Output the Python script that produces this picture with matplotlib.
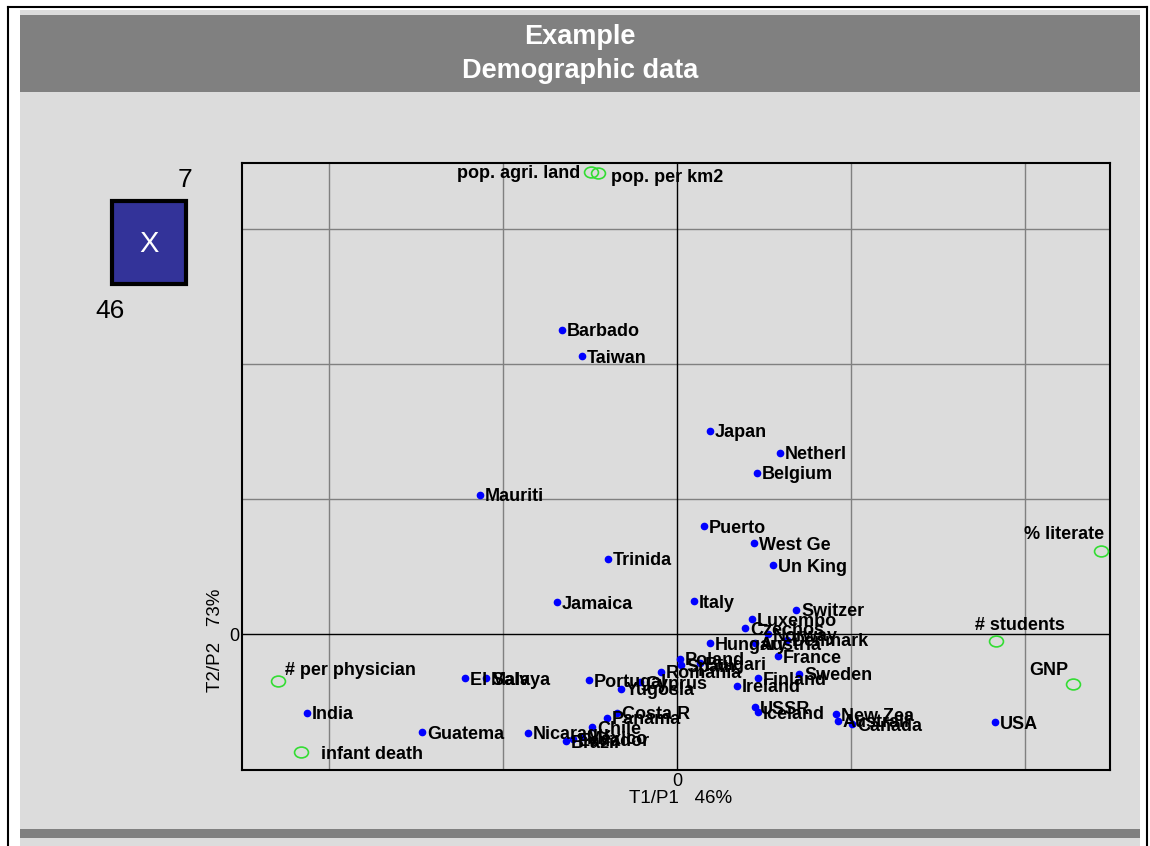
import matplotlib
matplotlib.use("Agg")
import matplotlib.pyplot as plt
from matplotlib.patches import Rectangle
from matplotlib.lines import Line2D
from matplotlib.path import Path
from matplotlib.transforms import Affine2D

plt.rcParams['font.family'] = ['Liberation Sans', 'DejaVu Sans']

W, H = 1150, 846

# country scores on the first two axes
countries = ["Barbado", "Taiwan", "Japan", "Netherl", "Belgium", "Mauriti", "Puerto",
             "West Ge", "Trinida", "Un King", "Jamaica", "Italy", "Switzer", "Luxembo",
             "Czechos", "Norway", "Denmark", "Austria", "Hungary", "France", "Sweden",
             "Finland", "Ireland", "Poland", "Spain", "Bulgari", "Romania", "Cyprus",
             "Portugal", "Yugosla", "Costa R", "Panama", "Chile", "Brazil", "Ecuador",
             "Mexico", "Nicaragu", "Guatema", "India", "El Salv", "Malaya", "USSR",
             "Iceland", "New Zea", "Australi", "Canada", "USA"]
country_t1 = [-0.661, -0.546, 0.190, 0.592, 0.460, -1.132, 0.155,
              0.443, -0.397, 0.552, -0.690, 0.098, 0.684, 0.431,
              0.391, 0.523, 0.632, 0.448, 0.190, 0.580, 0.701,
              0.466, 0.345, 0.017, 0.023, 0.132, -0.092, -0.213,
              -0.506, -0.322, -0.345, -0.402, -0.489, -0.638, -0.598,
              -0.546, -0.856, -1.466, -2.126, -1.218, -1.098, 0.448,
              0.466, 0.914, 0.925, 1.006, 1.828]
country_t2 = [2.252, 2.059, 1.504, 1.341, 1.193, 1.030, 0.800,
              0.674, 0.556, 0.511, 0.237, 0.244, 0.178, 0.111,
              0.044, 0.000, -0.044, -0.067, -0.067, -0.163, -0.296,
              -0.326, -0.385, -0.185, -0.230, -0.215, -0.281, -0.356,
              -0.341, -0.407, -0.585, -0.622, -0.689, -0.793, -0.778,
              -0.763, -0.733, -0.726, -0.585, -0.326, -0.326, -0.541,
              -0.578, -0.593, -0.644, -0.667, -0.652]

# variable loadings
variables = ["pop. agri. land", "pop. per km2", "% literate", "# students",
             "GNP", "# per physician", "infant death"]
var_t1 = [-0.494, -0.454, 2.437, 1.833, 2.276, -2.293, -2.161]
var_t2 = [3.422, 3.415, 0.615, -0.052, -0.370, -0.348, -0.874]
var_dx = [-11, 13, 3, -21, -5, 7, 20]
var_dy = [-1, -5, 16, 16, 13, 10, -3]
var_ha = ["right", "left", "right", "left", "right", "left", "left"]

fig = plt.figure(figsize=(W / 100, H / 100), dpi=100, facecolor="white")


def fig_rect(x0, y0, x1, y1, **kw):
    r = Rectangle((x0 / W, 1 - y1 / H), (x1 - x0) / W, (y1 - y0) / H,
                  transform=fig.transFigure, **kw)
    fig.add_artist(r)
    return r


# page background, title bar, bottom bar, outer border
fig_rect(20, 10, 1140, 850, facecolor="#dcdcdc", edgecolor="none", zorder=-5)
fig_rect(20, 15, 1140, 92, facecolor="#808080", edgecolor="none", zorder=-4)
fig_rect(20, 829, 1140, 838, facecolor="#808080", edgecolor="none", zorder=-4)
for xs, ys in [([8, 1147], [7, 7]), ([8, 8], [7, 846]), ([1147, 1147], [7, 846])]:
    fig.add_artist(Line2D([x / W for x in xs], [1 - y / H for y in ys],
                          transform=fig.transFigure, color="black", lw=1.5,
                          zorder=-4))

fig.text(580 / W, 1 - 37 / H, "Example", color="white", fontsize=19.5,
         fontweight="bold", ha="center", va="center")
fig.text(580 / W, 1 - 71 / H, "Demographic data", color="white", fontsize=19.5,
         fontweight="bold", ha="center", va="center")

# the little "X" box
fig_rect(112, 201, 186, 284, facecolor="#333399", edgecolor="black", lw=3, zorder=-3)
fig.text(149 / W, 1 - 244 / H, "X", color="white", fontsize=21, ha="center", va="center")
fig.text(185 / W, 1 - 180 / H, "7", fontsize=19, ha="center", va="center")
fig.text(110 / W, 1 - 311 / H, "46", fontsize=19, ha="center", va="center")

ax = fig.add_axes([242 / W, 1 - 770 / H, (1110 - 242) / W, (770 - 163) / H])
ax.set_facecolor("#dcdcdc")
ax.set_xlim(-2.5, 2.4885)
ax.set_ylim(-1.0074, 3.4889)
for v in [-2, -1, 1, 2]:
    ax.axvline(v, color="#808080", lw=1, zorder=1)
for v in [1, 2, 3]:
    ax.axhline(v, color="#808080", lw=1, zorder=1)
ax.axvline(0, color="black", lw=1, zorder=1)
ax.axhline(0, color="black", lw=1, zorder=1)
for s in ax.spines.values():
    s.set_color("black")
    s.set_linewidth(1.5)

ax.set_xticks([0])
ax.set_xticklabels(["0"], fontsize=13)
ax.set_yticks([0])
ax.set_yticklabels(["0"], fontsize=13)
ax.tick_params(length=0, pad=2)
fig.text(681 / W, 1 - 798 / H, "T1/P1   46%", fontsize=13.5, ha="center", va="center")
fig.text(215 / W, 1 - 640 / H, "T2/P2   73%", fontsize=13.5, ha="center", va="center",
         rotation=90)

ax.plot(country_t1, country_t2, "o", color="#0000ff", markersize=4.5, zorder=3)
for name, x, y in zip(countries, country_t1, country_t2):
    ax.annotate(name, (x, y), xytext=(5, -2), textcoords="offset pixels",
                va="center", ha="left", fontsize=13, fontweight="bold", zorder=4)

ellipse = Path.unit_circle().transformed(Affine2D().scale(1, 0.78))
ax.plot(var_t1, var_t2, linestyle="none", marker=ellipse, markersize=10,
        markerfacecolor="none", markeredgecolor="#33dd33", markeredgewidth=1.2,
        zorder=3)
for name, x, y, dx, dy, ha in zip(variables, var_t1, var_t2, var_dx, var_dy, var_ha):
    ax.annotate(name, (x, y), xytext=(dx, dy), textcoords="offset pixels",
                va="center", ha=ha, fontsize=13, fontweight="bold", zorder=4)

fig.savefig("out.png", dpi=100, facecolor=fig.get_facecolor())
